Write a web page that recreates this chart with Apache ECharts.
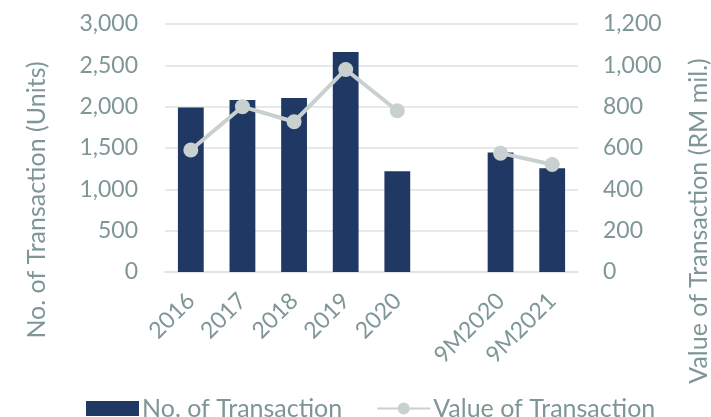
<!DOCTYPE html>
<html>
<head>
<meta charset="utf-8">
<script src="https://cdn.jsdelivr.net/npm/echarts@6/dist/echarts.min.js"></script>
<style>html,body{margin:0;padding:0;background:#fff}#c{width:711px;height:417px}</style>
</head>
<body>
<div id="c"></div>
<script>
const categories = ['2016', '2017', '2018', '2019', '2020', '', '9M2020', '9M2021'];
const unitsValues = [1990, 2080, 2105, 2660, 1220, '-', 1445, 1255];
const valueRM = [590, 800, 727, 980, 780, '-', 575, 520];
const leftTicks = [0, 3000, 500];
const rightTicks = [0, 1200, 200];

const FONT = 'Lato';
const TXT = '#7f9696';
const FS = 23;
const FS2 = 25;
const chart = echarts.init(document.getElementById('c'));
chart.setOption({
  animation: false,
  grid: { left: 165, right: 133, top: 24, bottom: 145 },
  legend: {
    left: 81, top: 391, itemWidth: 53, itemHeight: 15, itemGap: 34,
    textStyle: { color: TXT, fontFamily: FONT, fontSize: FS2, padding: [0, 0, 0, -2] },
    data: [
      { name: 'No. of Transaction', icon: 'rect' },
      { name: 'Value of Transaction' }
    ]
  },
  xAxis: {
    type: 'category', data: categories,
    axisTick: { show: false },
    axisLine: { lineStyle: { color: '#dde2e2', width: 1.5 } },
    axisLabel: { rotate: 45, color: TXT, fontFamily: FONT, fontSize: FS, margin: 25, interval: 0 }
  },
  yAxis: [
    {
      type: 'value', min: leftTicks[0], max: leftTicks[1], interval: leftTicks[2],
      axisLabel: { color: TXT, fontFamily: FONT, fontSize: FS, margin: 27,
        formatter: v => v.toLocaleString('en-US') },
      splitLine: { lineStyle: { color: '#dde2e2', width: 1.5 } },
      axisLine: { show: false }, axisTick: { show: false }
    },
    {
      type: 'value', min: rightTicks[0], max: rightTicks[1], interval: rightTicks[2],
      axisLabel: { color: TXT, fontFamily: FONT, fontSize: FS, margin: 25,
        formatter: v => v.toLocaleString('en-US') },
      splitLine: { show: false },
      axisLine: { show: false }, axisTick: { show: false }
    }
  ],
  graphic: [
    { type: 'text', x: 37, y: 200, rotation: Math.PI / 2,
      style: { text: 'No. of Transaction (Units)', fill: TXT, font: FS2 + 'px ' + FONT, align: 'center', verticalAlign: 'middle' } },
    { type: 'text', x: 699, y: 221, rotation: Math.PI / 2,
      style: { text: 'Value of Transaction (RM mil.)', fill: TXT, font: FS2 + 'px ' + FONT, align: 'center', verticalAlign: 'middle' } }
  ],
  series: [
    {
      name: 'No. of Transaction', type: 'bar', data: unitsValues, barWidth: '50%',
      itemStyle: { color: '#203864' }
    },
    {
      name: 'Value of Transaction', type: 'line', yAxisIndex: 1, data: valueRM,
      symbol: 'circle', symbolSize: 15,
      lineStyle: { color: '#c9d0d0', width: 4 },
      itemStyle: { color: '#c9d0d0' }
    }
  ]
});
</script>
</body>
</html>
